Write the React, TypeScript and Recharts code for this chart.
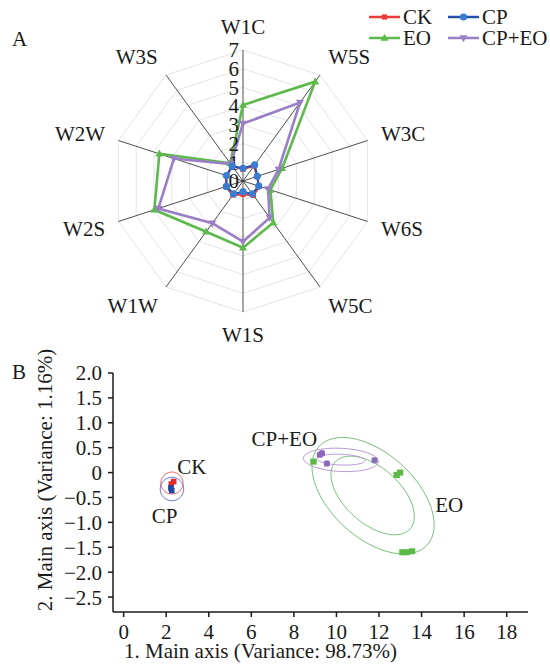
import React from "react";
import {
  RadarChart,
  PolarGrid,
  PolarAngleAxis,
  PolarRadiusAxis,
  Radar,
  ScatterChart,
  Scatter,
  XAxis,
  YAxis,
  Label,
} from "recharts";

const FONT = "Liberation Serif, Times New Roman, serif";
const INK = "#1a1a1a";
const FS = 21;

// ---- panel A data ----
const categories = ["W1C", "W5S", "W3C", "W6S", "W5C", "W1S", "W1W", "W2S", "W2W", "W3S"];
const ckValues = [0.62, 1.0, 0.78, 0.92, 0.95, 0.72, 0.92, 0.97, 0.92, 0.98];
const cpValues = [0.68, 1.06, 0.8, 0.88, 0.85, 0.57, 0.85, 0.93, 0.93, 0.98];
const eoValues = [4.06, 6.56, 2.2, 1.54, 2.75, 3.57, 3.35, 4.98, 4.7, 1.17];
const cpeoValues = [3.07, 5.18, 2.0, 1.41, 2.42, 3.24, 2.79, 4.76, 3.88, 1.12];

// ---- panel B data ----
const ckPoints = [{ x: 2.24, y: -0.23 }, { x: 2.35, y: -0.18 }];
const cpPoints = [{ x: 2.22, y: -0.31 }, { x: 2.26, y: -0.36 }];
const eoPoints = [
  { x: 8.92, y: 0.22 },
  { x: 12.83, y: -0.05 },
  { x: 12.99, y: 0.0 },
  { x: 13.1, y: -1.6 },
  { x: 13.3, y: -1.6 },
  { x: 13.55, y: -1.58 },
];
const cpeoPoints = [
  { x: 9.22, y: 0.36 },
  { x: 9.32, y: 0.39 },
  { x: 9.55, y: 0.18 },
  { x: 11.79, y: 0.25 },
];
// confidence ellipses: centre, x half-extent, y half-extent, phase (deg)
const ellipses = [
  { group: "CK", cx: 2.27, cy: -0.21, a: 0.52, b: 0.22, phase: 90 },
  { group: "CP", cx: 2.27, cy: -0.33, a: 0.55, b: 0.235, phase: 90 },
  { group: "EO", cx: 11.72, cy: -0.465, a: 2.87, b: 1.17, phase: 120 },
  { group: "EO", cx: 11.7, cy: -0.46, a: 1.96, b: 0.79, phase: 122 },
  { group: "CP+EO", cx: 10.21, cy: 0.255, a: 1.76, b: 0.235, phase: 98 },
  { group: "CP+EO", cx: 10.21, cy: 0.26, a: 1.13, b: 0.11, phase: 100 },
];
const groupLabels = [
  { name: "CK", x: 3.21, y: 0.12 },
  { name: "CP", x: 1.93, y: -0.87 },
  { name: "CP+EO", x: 7.55, y: 0.69 },
  { name: "EO", x: 15.3, y: -0.65 },
];
const xTicks = [0, 2, 4, 6, 8, 10, 12, 14, 16, 18];
const yTicks = [2.0, 1.5, 1.0, 0.5, 0, -0.5, -1.0, -1.5, -2.0, -2.5];

const colors: Record<string, string> = {
  CK: "#ec3b3b",
  CP: "#2450a6",
  EO: "#5db94c",
  "CP+EO": "#9a7fc6",
};
const ellipseColors: Record<string, string> = {
  CK: "#e9585a",
  CP: "#5868c4",
  EO: "#78c07a",
  "CP+EO": "#b995d6",
};
const pointColors: Record<string, string> = {
  CK: "#e42b2b",
  CP: "#2147a3",
  EO: "#5cb946",
  "CP+EO": "#8c68b8",
};

const radarData = categories.map((c, i) => ({
  name: c,
  CK: ckValues[i],
  CP: cpValues[i],
  EO: eoValues[i],
  "CP+EO": cpeoValues[i],
}));

function ellipsePath(e: (typeof ellipses)[number]) {
  const pts = [];
  const ph = (e.phase * Math.PI) / 180;
  for (let i = 0; i <= 96; i++) {
    const t = (i / 96) * Math.PI * 2;
    pts.push({ x: e.cx + e.a * Math.cos(t), y: e.cy + e.b * Math.cos(t - ph) });
  }
  return pts;
}

const CX = 243;
const CY = 181;
const R = 131;

function Marker({ kind, x, y, color }: { kind: string; x: number; y: number; color: string }) {
  if (kind === "CK") return <rect x={x - 2.6} y={y - 2.6} width={5.2} height={5.2} fill={color} />;
  if (kind === "CP") return <circle cx={x} cy={y} r={3.6} fill="#3b7bd0" />;
  if (kind === "EO")
    return <path d={`M${x},${y - 4.2}L${x + 4},${y + 2.8}L${x - 4},${y + 2.8}Z`} fill={color} />;
  return <path d={`M${x},${y + 4.2}L${x + 4},${y - 2.8}L${x - 4},${y - 2.8}Z`} fill={color} />;
}

function AngleTick(props: any) {
  const th = (props.payload.coordinate * Math.PI) / 180;
  const c = Math.cos(th);
  const s = Math.sin(th);
  const anchor = c > 0.1 ? "start" : c < -0.1 ? "end" : "middle";
  const x = anchor === "middle" ? CX : CX + 145 * c;
  const y = CY - 154 * s;
  return (
    <text x={x} y={y} dy="0.35em" textAnchor={anchor} fontSize={FS} fontFamily={FONT} fill={INK}>
      {props.payload.value}
    </text>
  );
}

function RadiusTick(props: any) {
  const r = props.payload.coordinate;
  return (
    <text x={CX - 4} y={CY - r} dy="0.35em" textAnchor="end" fontSize={FS} fontFamily={FONT} fill={INK}>
      {props.payload.value}
    </text>
  );
}

function radarDot(kind: string) {
  return (p: any) => <Marker key={`${kind}-${p.index}`} kind={kind} x={p.cx} y={p.cy} color={colors[kind]} />;
}

function LegendBox() {
  const items = [
    { k: "CK", lx: 369, ly: 17 },
    { k: "CP", lx: 448, ly: 17 },
    { k: "EO", lx: 369, ly: 38 },
    { k: "CP+EO", lx: 448, ly: 38 },
  ];
  return (
    <svg width={550} height={50} style={{ position: "absolute", left: 0, top: 0 }}>
      {items.map((it) => (
        <g key={it.k}>
          <line x1={it.lx} x2={it.lx + 31} y1={it.ly} y2={it.ly} stroke={colors[it.k]} strokeWidth={2.5} />
          <Marker kind={it.k} x={it.lx + 15.5} y={it.ly} color={colors[it.k]} />
          <text x={it.lx + 34} y={it.ly} dy="0.35em" fontSize={FS} fontFamily={FONT} fill={INK}>
            {it.k}
          </text>
        </g>
      ))}
    </svg>
  );
}

const fmtY = (v: number) => (v === 0 ? "0" : v.toFixed(1).replace("-", "\u2212"));

export default function App() {
  return (
    <div style={{ position: "absolute", left: 0, top: 0, width: 550, height: 664, background: "#fff", fontFamily: FONT }}>
      <div style={{ position: "absolute", left: 0, top: 340 }}>
        <ScatterChart width={550} height={324} margin={{ top: 33, right: 22, bottom: 22, left: 0 }}>
          <XAxis
            type="number"
            dataKey="x"
            domain={[-0.5, 19]}
            ticks={xTicks}
            interval={0}
            allowDataOverflow
            stroke={INK}
            strokeWidth={1.5}
            tickSize={5}
            tickMargin={7}
            height={30}
            tick={{ fontSize: FS, fontFamily: FONT, fill: INK }}
          >
            <Label
              content={() => (
                <text x={260.5} y={318} textAnchor="middle" fontSize={FS} fontFamily={FONT} fill={INK}>
                  1. Main axis (Variance: 98.73%)
                </text>
              )}
            />
          </XAxis>
          <YAxis
            type="number"
            dataKey="y"
            domain={[-2.8, 2.0]}
            ticks={yTicks}
            interval={0}
            allowDataOverflow
            stroke={INK}
            strokeWidth={1.5}
            tickSize={5}
            tickMargin={6}
            width={113}
            tickFormatter={fmtY}
            tick={{ fontSize: FS, fontFamily: FONT, fill: INK }}
          >
            <Label
              content={() => (
                <text transform="translate(52,140) rotate(-90)" textAnchor="middle" fontSize={FS} fontFamily={FONT} fill={INK}>
                  2. Main axis (Variance: 1.16%)
                </text>
              )}
            />
          </YAxis>
          {ellipses.map((e, i) => (
            <Scatter
              key={`el-${i}`}
              data={ellipsePath(e)}
              line={{ stroke: ellipseColors[e.group], strokeWidth: 1 }}
              shape={() => <g />}
              isAnimationActive={false}
            />
          ))}
          <Scatter data={ckPoints} fill={pointColors.CK} shape={(p: any) => <rect x={p.cx - 2.8} y={p.cy - 2.8} width={5.6} height={5.6} fill={pointColors.CK} />} isAnimationActive={false} />
          <Scatter data={cpPoints} fill={pointColors.CP} shape={(p: any) => <rect x={p.cx - 2.8} y={p.cy - 2.8} width={5.6} height={5.6} fill={pointColors.CP} />} isAnimationActive={false} />
          <Scatter data={eoPoints} fill={pointColors.EO} shape={(p: any) => <rect x={p.cx - 3.2} y={p.cy - 3} width={6.4} height={6} fill={pointColors.EO} />} isAnimationActive={false} />
          <Scatter data={cpeoPoints} fill={pointColors["CP+EO"]} shape={(p: any) => <rect x={p.cx - 3} y={p.cy - 3} width={6} height={6} rx={1.5} fill={pointColors["CP+EO"]} />} isAnimationActive={false} />
          <Scatter
            data={groupLabels}
            shape={(p: any) => (
              <text x={p.cx} y={p.cy} dy="0.35em" textAnchor="middle" fontSize={FS} fontFamily={FONT} fill={INK}>
                {p.payload.name}
              </text>
            )}
            isAnimationActive={false}
          />
        </ScatterChart>
      </div>

      <div style={{ position: "absolute", left: 0, top: 0 }}>
        <RadarChart width={550} height={362} cx={CX} cy={CY} outerRadius={R} data={radarData} margin={{ top: 0, right: 0, bottom: 0, left: 0 }}>
          <PolarGrid gridType="polygon" radialLines={false} stroke="#e4e4e4" strokeWidth={1} />
          <PolarGrid gridType="polygon" radialLines polarRadius={[]} stroke="#3a3a3a" strokeWidth={0.9} />
          <PolarAngleAxis dataKey="name" tick={<AngleTick />} tickLine={false} axisLine={false} />
          <PolarRadiusAxis angle={90} domain={[0, 7]} tickCount={8} tick={<RadiusTick />} axisLine={false} tickLine={false} />
          <Radar dataKey="EO" stroke={colors.EO} strokeWidth={2.6} fill="none" fillOpacity={0} dot={radarDot("EO")} isAnimationActive={false} />
          <Radar dataKey="CP+EO" stroke={colors["CP+EO"]} strokeWidth={2.6} fill="none" fillOpacity={0} dot={radarDot("CP+EO")} isAnimationActive={false} />
          <Radar dataKey="CK" stroke={colors.CK} strokeWidth={2} fill="none" fillOpacity={0} dot={radarDot("CK")} isAnimationActive={false} />
          <Radar dataKey="CP" stroke={colors.CP} strokeWidth={2} fill="none" fillOpacity={0} dot={radarDot("CP")} isAnimationActive={false} />
        </RadarChart>
        <LegendBox />
      </div>

      <svg width={550} height={664} style={{ position: "absolute", left: 0, top: 0, pointerEvents: "none" }}>
        <text x={12} y={39} dy="0.35em" fontSize={FS} fontFamily={FONT} fill={INK}>A</text>
        <text x={12} y={372} dy="0.35em" fontSize={FS} fontFamily={FONT} fill={INK}>B</text>
      </svg>
    </div>
  );
}
